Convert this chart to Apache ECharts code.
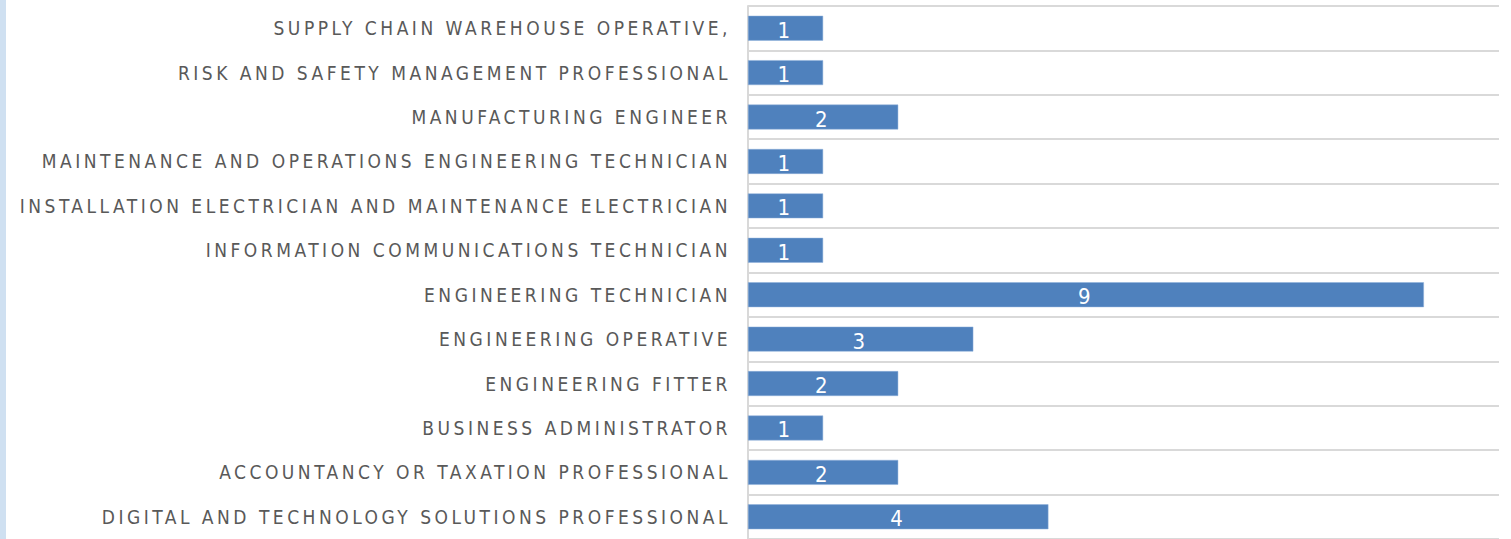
<!DOCTYPE html>
<html>
<head>
<meta charset="utf-8">
<script src="https://cdn.jsdelivr.net/npm/echarts@6/dist/echarts.min.js"></script>
<style>
  html, body { margin: 0; padding: 0; background: #fff; }
  #wrap { width: 1511px; height: 539px; border-left: 6px solid #cfe0f1; box-sizing: border-box; }
  #chart { width: 1505px; height: 539px; }
  #chart svg text { letter-spacing: 3.5px; }
</style>
</head>
<body>
<div id="wrap"><div id="chart"></div></div>
<script>
// bottom to top, as the y axis draws them
const jobs = [
    'DIGITAL AND TECHNOLOGY SOLUTIONS PROFESSIONAL',
    'ACCOUNTANCY OR TAXATION PROFESSIONAL',
    'BUSINESS ADMINISTRATOR',
    'ENGINEERING FITTER',
    'ENGINEERING OPERATIVE',
    'ENGINEERING TECHNICIAN',
    'INFORMATION COMMUNICATIONS TECHNICIAN',
    'INSTALLATION ELECTRICIAN AND MAINTENANCE ELECTRICIAN',
    'MAINTENANCE AND OPERATIONS ENGINEERING TECHNICIAN',
    'MANUFACTURING ENGINEER',
    'RISK AND SAFETY MANAGEMENT PROFESSIONAL',
    'SUPPLY CHAIN WAREHOUSE OPERATIVE,'
];
const counts = [4, 2, 1, 2, 3, 9, 1, 1, 1, 2, 1, 1];

const chart = echarts.init(document.getElementById('chart'), null, { renderer: 'svg' });

const option = {
    animation: false,
    grid: {
        left: 742,
        right: 12,
        top: 6,
        bottom: -1
    },
    xAxis: {
        type: 'value',
        min: 0,
        max: 10,
        axisLabel: { show: false },
        axisTick: { show: false },
        axisLine: { show: false },
        splitLine: { show: false }
    },
    yAxis: {
        type: 'category',
        data: jobs,
        axisTick: { show: false },
        axisLine: {
            show: true,
            lineStyle: { color: '#d9d9d9', width: 2 }
        },
        splitLine: {
            show: true,
            lineStyle: { color: '#d9d9d9', width: 2 }
        },
        axisLabel: {
            margin: 17,
            color: '#595959',
            fontSize: 19,
            fontFamily: '"Liberation Sans Narrow", "DejaVu Sans Condensed", sans-serif'
        }
    },
    series: [{
        type: 'bar',
        data: counts,
        barCategoryGap: '44%',
        itemStyle: {
            color: '#4f81bd',
            borderColor: '#8eb0da',
            borderWidth: 0.5
        },
        label: {
            show: true,
            position: 'inside',
            offset: [0, 2],
            color: '#fff',
            fontSize: 22,
            fontFamily: '"Liberation Sans Narrow", "DejaVu Sans Condensed", sans-serif'
        }
    }]
};
chart.setOption(option);
</script>
</body>
</html>
